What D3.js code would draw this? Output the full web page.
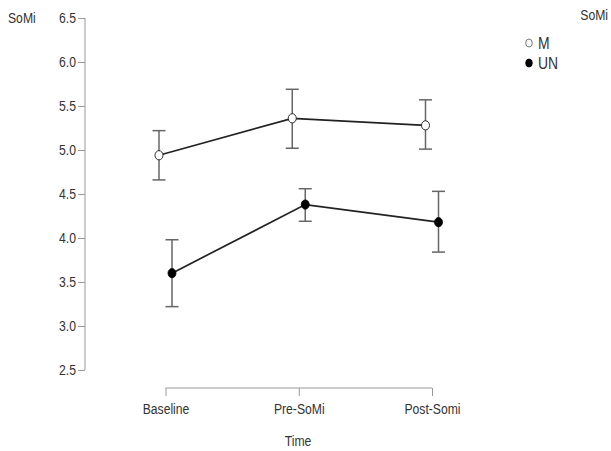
<!DOCTYPE html>
<html>
<head>
<meta charset="utf-8">
<script src="https://d3js.org/d3.v7.min.js"></script>
<style>
  body { margin: 0; background: #fff; }
  text { font-family: "Liberation Sans", Arial, sans-serif; fill: #333; }
</style>
</head>
<body>
<script>
// values
var times = ["Baseline", "Pre-SoMi", "Post-Somi"];
var groups = ["M", "UN"];
var meanM = [4.94, 5.36, 5.28];
var lowM = [4.66, 5.02, 5.01];
var highM = [5.22, 5.69, 5.57];
var meanUN = [3.60, 4.38, 4.18];
var lowUN = [3.22, 4.19, 3.84];
var highUN = [3.98, 4.56, 4.53];
var yTicks = [2.5, 3.0, 3.5, 4.0, 4.5, 5.0, 5.5, 6.0, 6.5];

var W = 611, H = 451;
var SX = 0.87; // text in the picture is a bit condensed
var svg = d3.select("body").append("svg").attr("width", W).attr("height", H);

// squeeze text horizontally, keeping its anchor where it was
function narrow(sel) {
  sel.each(function () {
    var t = d3.select(this);
    var x0 = +t.attr("x") || 0;
    t.attr("x", x0 / SX).attr("transform", "scale(" + SX + ",1)");
  });
  return sel;
}

var x = d3.scalePoint().domain(times).range([165.5, 432]);
var y = d3.scaleLinear().domain([2.5, 6.5]).range([370, 18]);
var dodge = d3.scalePoint().domain(groups).range([-6.5, 6.5]);

var series = [
  {name: "M", mean: meanM, low: lowM, high: highM, fill: "#fff"},
  {name: "UN", mean: meanUN, low: lowUN, high: highUN, fill: "#000"}
];

// y axis
var yAxis = svg.append("g").attr("transform", "translate(85,0)")
  .call(d3.axisLeft(y).tickValues(yTicks).tickFormat(d3.format(".1f")).tickSize(7).tickPadding(2));
yAxis.select(".domain").attr("stroke", "#999").attr("d", "M0," + y(6.5) + "V" + y(2.5));
yAxis.selectAll(".tick line").attr("stroke", "#999");
narrow(yAxis.selectAll(".tick text").style("font-size", "14px").attr("fill", "#333"));

// x axis
var xAxis = svg.append("g").attr("transform", "translate(0,388)")
  .call(d3.axisBottom(x).tickSize(8).tickPadding(8));
xAxis.select(".domain").attr("stroke", "#999").attr("d", "M" + x(times[0]) + ",0H" + x(times[2]));
xAxis.selectAll(".tick line").attr("stroke", "#999");
narrow(xAxis.selectAll(".tick text").style("font-size", "14px").attr("fill", "#333"));

narrow(svg.append("text").attr("x", 298).attr("y", 446).attr("text-anchor", "middle")
  .style("font-size", "14px").text("Time"));
narrow(svg.append("text").attr("x", 8).attr("y", 23)
  .style("font-size", "14px").text("SoMi"));

var line = d3.line();

series.forEach(function (s) {
  var g = svg.append("g");
  var px = function (i) { return x(times[i]) + dodge(s.name); };

  // error bars
  times.forEach(function (t, i) {
    var cx = px(i);
    g.append("line").attr("x1", cx).attr("x2", cx)
      .attr("y1", y(s.low[i])).attr("y2", y(s.high[i]))
      .attr("stroke", "#666").attr("stroke-width", 1.5);
    [s.low[i], s.high[i]].forEach(function (v) {
      g.append("line").attr("x1", cx - 6.5).attr("x2", cx + 6.5)
        .attr("y1", y(v)).attr("y2", y(v))
        .attr("stroke", "#666").attr("stroke-width", 1.5);
    });
  });

  g.append("path")
    .attr("d", line(times.map(function (t, i) { return [px(i), y(s.mean[i])]; })))
    .attr("fill", "none").attr("stroke", "#222").attr("stroke-width", 1.7);

  g.selectAll("ellipse").data(s.mean).enter().append("ellipse")
    .attr("cx", function (d, i) { return px(i); })
    .attr("cy", function (d) { return y(d); })
    .attr("rx", 4).attr("ry", 4.6)
    .attr("fill", s.fill).attr("stroke", "#000").attr("stroke-width", 0.8);
});

// legend
narrow(svg.append("text").attr("x", 608).attr("y", 20).attr("text-anchor", "end")
  .style("font-size", "14px").text("SoMi"));
var leg = svg.append("g").selectAll("g").data(series).enter().append("g")
  .attr("transform", function (d, i) { return "translate(529," + (43 + i * 20) + ")"; });
leg.append("ellipse").attr("rx", 3.3).attr("ry", 4)
  .attr("fill", function (d) { return d.fill; })
  .attr("stroke", function (d) { return d.name === "M" ? "#555" : "#000"; })
  .attr("stroke-width", 0.8);
narrow(leg.append("text").attr("x", 9).attr("y", 6).style("font-size", "16px")
  .text(function (d) { return d.name; }));
</script>
</body>
</html>
